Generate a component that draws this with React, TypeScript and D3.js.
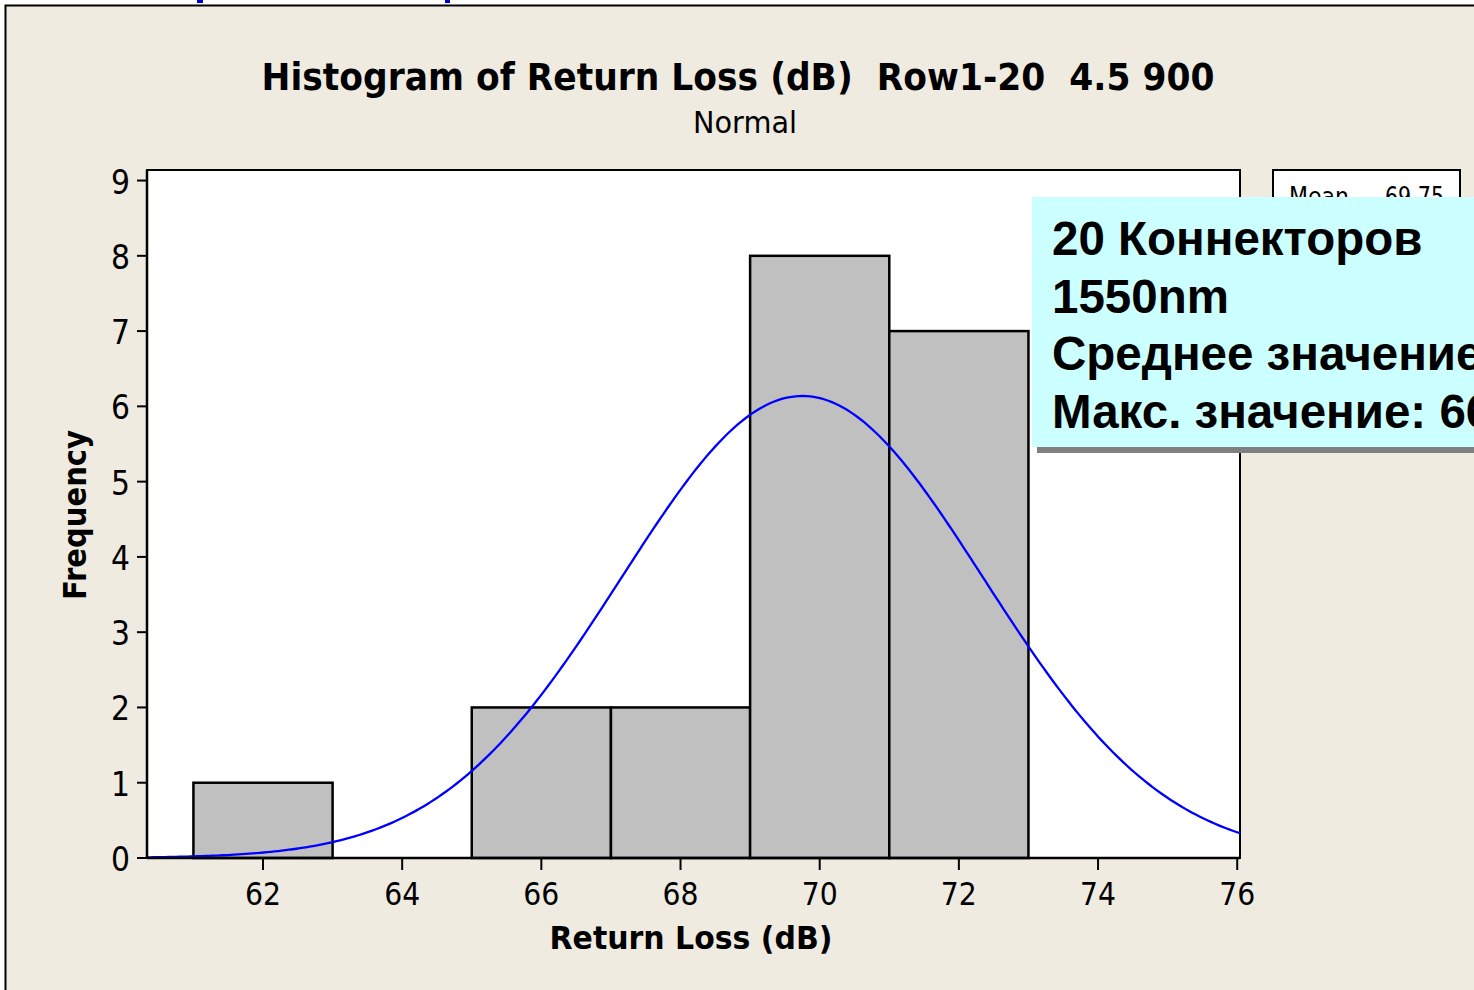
import React from "react";
import * as d3 from "d3";

const binStarts = [61, 63, 65, 67, 69, 71];
const binWidth = 2;
const counts = [1, 0, 2, 2, 8, 7];
const xTicks = [62, 64, 66, 68, 70, 72, 74, 76];
const yTicks = [0, 1, 2, 3, 4, 5, 6, 7, 8, 9];
const MEAN = 69.75;
const STDEV = 2.6;
const N = 20;
const noteLines = ["20 Коннекторов", "1550nm", "Среднее значение: 69.75", "Макс. значение: 66"];

const W = 1474;
const H = 990;
const plot = { left: 147, right: 1240, top: 170, bottom: 858 };
const BG = "#EFEBE0";
const TICKFONT = "'DejaVu Sans', Verdana, sans-serif";

export default function App() {
  const x = d3.scaleLinear().domain([60.333, 76.04]).range([plot.left, plot.right]);
  const y = d3.scaleLinear().domain([0, 9.14]).range([plot.bottom, plot.top]);

  const pdf = (v: number) =>
    (N * binWidth) / (STDEV * Math.sqrt(2 * Math.PI)) * Math.exp(-0.5 * ((v - MEAN) / STDEV) ** 2);
  const [d0, d1] = x.domain();
  const curvePts = d3.range(0, 301).map((i) => d0 + ((d1 - d0) * i) / 300);
  const line = d3
    .line<number>()
    .x((v) => x(v))
    .y((v) => y(pdf(v)));

  return (
    <svg
      width={W}
      height={H}
      style={{ position: "absolute", left: 0, top: 0, background: "#fff" }}
    >
      <rect x={0} y={0} width={W} height={H} fill="#fff" />
      {/* remnants of link text above */}
      <rect x={197} y={0} width={6} height={3} fill="#0000CC" />
      <rect x={445} y={0} width={5} height={3} fill="#0000CC" />
      {/* outer frame */}
      <rect x={5.5} y={5.5} width={1600} height={1100} fill={BG} stroke="#000" strokeWidth={2} />

      {/* title */}
      <text
        x={738}
        y={90}
        textAnchor="middle"
        fontFamily={TICKFONT}
        fontWeight="bold"
        fontSize={37}
        textLength={953}
        lengthAdjust="spacingAndGlyphs"
        style={{ whiteSpace: "pre" }}
      >
        {"Histogram of Return Loss (dB)  Row1-20  4.5 900"}
      </text>
      <text
        x={745}
        y={133}
        textAnchor="middle"
        fontFamily={TICKFONT}
        fontSize={31}
        textLength={104}
        lengthAdjust="spacingAndGlyphs"
      >
        Normal
      </text>

      {/* plot area */}
      <rect
        x={plot.left}
        y={plot.top}
        width={plot.right - plot.left}
        height={plot.bottom - plot.top}
        fill="#fff"
        stroke="#000"
        strokeWidth={2}
      />

      {/* bars */}
      {binStarts.map((b, i) =>
        counts[i] > 0 ? (
          <rect
            key={i}
            x={x(b)}
            y={y(counts[i])}
            width={x(b + binWidth) - x(b)}
            height={y(0) - y(counts[i])}
            fill="#C0C0C0"
            stroke="#000"
            strokeWidth={2.5}
          />
        ) : null
      )}

      {/* normal fit */}
      <path d={line(curvePts) || ""} fill="none" stroke="#0000FF" strokeWidth={2.3} />

      {/* axes lines */}
      <line x1={plot.left} x2={plot.right} y1={plot.bottom} y2={plot.bottom} stroke="#000" strokeWidth={2.5} />
      <line x1={plot.left} x2={plot.left} y1={plot.top} y2={plot.bottom} stroke="#000" strokeWidth={2.5} />

      {/* y ticks */}
      {yTicks.map((t) => (
        <g key={"y" + t}>
          <line x1={plot.left - 10} x2={plot.left} y1={y(t)} y2={y(t)} stroke="#000" strokeWidth={2} />
          <text
            x={130}
            y={y(t) + 13}
            textAnchor="end"
            fontFamily={TICKFONT}
            fontSize={34}
            textLength={19}
            lengthAdjust="spacingAndGlyphs"
          >
            {t}
          </text>
        </g>
      ))}

      {/* x ticks */}
      {xTicks.map((t) => (
        <g key={"x" + t}>
          <line x1={x(t)} x2={x(t)} y1={plot.bottom} y2={plot.bottom + 12} stroke="#000" strokeWidth={2} />
          <text
            x={x(t)}
            y={905}
            textAnchor="middle"
            fontFamily={TICKFONT}
            fontSize={32}
            textLength={36}
            lengthAdjust="spacingAndGlyphs"
          >
            {t}
          </text>
        </g>
      ))}

      {/* axis labels */}
      <text
        x={691}
        y={949}
        textAnchor="middle"
        fontFamily={TICKFONT}
        fontWeight="bold"
        fontSize={32}
        textLength={283}
        lengthAdjust="spacingAndGlyphs"
      >
        Return Loss (dB)
      </text>
      <text
        transform={`translate(86,515) rotate(-90)`}
        textAnchor="middle"
        fontFamily={TICKFONT}
        fontWeight="bold"
        fontSize={32}
        textLength={170}
        lengthAdjust="spacingAndGlyphs"
      >
        Frequency
      </text>

      {/* legend box (partly hidden) */}
      <rect x={1273} y={170} width={187} height={120} fill="#fff" stroke="#000" strokeWidth={2} />
      <text x={1289} y={206} fontFamily={TICKFONT} fontSize={26} textLength={60} lengthAdjust="spacingAndGlyphs">
        Mean
      </text>
      <text x={1444} y={206} textAnchor="end" fontFamily={TICKFONT} fontSize={26} textLength={59} lengthAdjust="spacingAndGlyphs">
        {MEAN.toFixed(2)}
      </text>

      {/* annotation callout */}
      <rect x={1037} y={447} width={500} height={6} fill="#808080" />
      <rect x={1032} y={197} width={500} height={250} fill="#CCFFFF" />
      {noteLines.map((s, i) => (
        <text
          key={i}
          x={1052}
          y={255 + i * 57.7}
          fontFamily="'Liberation Sans', Arial, sans-serif"
          fontWeight="bold"
          fontSize={47.5}
          fill="#000"
        >
          {s}
        </text>
      ))}
    </svg>
  );
}
